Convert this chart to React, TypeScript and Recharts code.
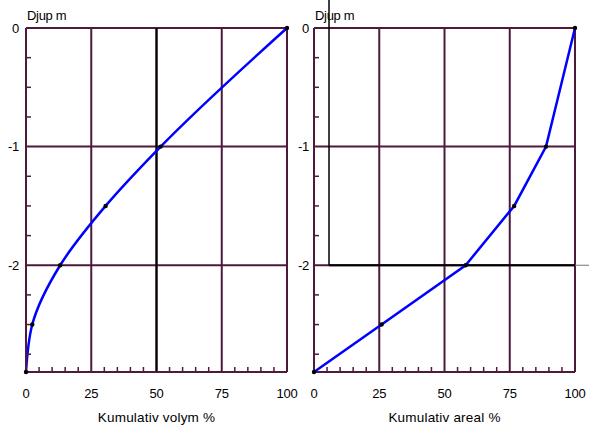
import { LineChart, Line, XAxis, YAxis, CartesianGrid, ReferenceLine } from 'recharts';

// Depth curves: cumulative volume / area against depth

const volymPct = [100, 51.6, 30.5, 13.1, 2.4, 0];
const volymDepth = [0, -1, -1.5, -2, -2.5, -2.9];

const arealPct = [100, 88.9, 76.7, 58.1, 25.9, 0];
const arealDepth = [0, -1, -1.5, -2, -2.5, -2.9];

const xTicks = [0, 25, 50, 75, 100];
const xMinorTicks = [5, 10, 15, 20, 30, 35, 40, 45, 55, 60, 65, 70, 80, 85, 90, 95];
const yTicks = [0, -1, -2];
const yMinorTicks = [-0.25, -0.5, -0.75, -1.25, -1.5, -1.75, -2.25, -2.5, -2.75];
const depthDomain = [-2.9, 0];

// stray black box lines seen on the right-hand panel
const boxX = 5.75;
const boxTop = 0.235;
const boxRight = 105.4;

const GRID = '#4d1a3c';
const FONT = '"Liberation Sans", Arial, sans-serif';

const toRows = (xs: number[], ys: number[]) => xs.map((v, i) => ({ pct: v, depth: ys[i] }));

const NoLabel = () => <g />;

interface DepthChartProps {
  rows: { pct: number; depth: number }[];
  xTitle: string;
  yAxisWidth: number;
  rightMargin: number;
  tickGap: number;
  curve: 'monotone' | 'linear';
  box?: boolean;
  darkMid?: boolean;
}

function DepthChart({ rows, xTitle, yAxisWidth, rightMargin, tickGap, curve, box, darkMid }: DepthChartProps) {
  const tickStyle = { fill: '#000', fontSize: 13, fontFamily: FONT, letterSpacing: -0.3 };
  return (
    <LineChart
      width={300}
      height={425}
      data={rows}
      layout="vertical"
      margin={{ top: 28, right: rightMargin, left: 0, bottom: 0 }}
    >
      <CartesianGrid xAxisId="main" yAxisId="main" stroke={GRID} strokeWidth={2} />
      <XAxis
        xAxisId="main"
        type="number"
        dataKey="pct"
        domain={[0, 100]}
        ticks={xTicks}
        height={53}
        tickLine={false}
        tickSize={0}
        tickMargin={17}
        axisLine={{ stroke: GRID, strokeWidth: 2 }}
        tick={tickStyle}
        label={{ value: xTitle, position: 'insideBottom', offset: 3, fill: '#000', fontSize: 13.5, fontFamily: FONT, letterSpacing: 0.2 }}
      />
      <XAxis
        xAxisId="minor"
        type="number"
        dataKey="pct"
        domain={[0, 100]}
        allowDataOverflow
        ticks={xMinorTicks}
        interval={0}
        mirror
        height={5}
        tick={NoLabel}
        axisLine={false}
        tickSize={5}
        tickLine={{ stroke: GRID, strokeWidth: 1.5 }}
      />
      <YAxis
        yAxisId="main"
        type="number"
        dataKey="depth"
        domain={depthDomain}
        reversed
        ticks={yTicks}
        width={yAxisWidth}
        tickLine={false}
        tickSize={0}
        tickMargin={tickGap}
        axisLine={{ stroke: GRID, strokeWidth: 2 }}
        tick={tickStyle}
        label={{
          value: 'Djup m',
          content: (p: any) => (
            <text
              x={p.viewBox.x + p.viewBox.width + 1}
              y={p.viewBox.y - 8}
              fill="#000"
              fontSize={13}
              fontFamily={FONT}
              letterSpacing={-0.3}
            >
              Djup m
            </text>
          ),
        }}
      />
      <YAxis
        yAxisId="minor"
        type="number"
        dataKey="depth"
        domain={depthDomain}
        allowDataOverflow
        reversed
        ticks={yMinorTicks}
        interval={0}
        mirror
        width={5}
        tick={NoLabel}
        axisLine={false}
        tickSize={5}
        tickLine={{ stroke: GRID, strokeWidth: 1.5 }}
      />
      {darkMid && <ReferenceLine xAxisId="main" yAxisId="main" x={50} stroke="#000" strokeWidth={2} />}
      {box && (
        <ReferenceLine
          xAxisId="main"
          yAxisId="main"
          ifOverflow="visible"
          segment={[{ x: boxX, y: boxTop }, { x: boxX, y: -2 }]}
          stroke="#000"
          strokeWidth={1.5}
        />
      )}
      {box && (
        <ReferenceLine
          xAxisId="main"
          yAxisId="main"
          ifOverflow="visible"
          segment={[{ x: boxX, y: -2 }, { x: 100, y: -2 }]}
          stroke="#000"
          strokeWidth={2}
        />
      )}
      {box && (
        <ReferenceLine
          xAxisId="main"
          yAxisId="main"
          ifOverflow="visible"
          segment={[{ x: 100, y: -2 }, { x: boxRight, y: -2 }]}
          stroke="#777"
          strokeWidth={1}
        />
      )}
      <Line
        xAxisId="main"
        yAxisId="main"
        type={curve}
        dataKey="pct"
        stroke="#0000ff"
        strokeWidth={2.5}
        dot={{ r: 2.2, fill: '#000', stroke: '#000', strokeWidth: 0 }}
        isAnimationActive={false}
      />
    </LineChart>
  );
}

export default function App() {
  return (
    <div style={{ position: 'absolute', left: 0, top: 0, width: 589, height: 425, background: '#fff', overflow: 'hidden' }}>
      <div style={{ position: 'absolute', left: 0, top: 0 }}>
        <DepthChart
          rows={toRows(volymPct, volymDepth)}
          xTitle="Kumulativ volym %"
          yAxisWidth={26}
          rightMargin={13}
          tickGap={7}
          curve="monotone"
          darkMid
        />
      </div>
      <div style={{ position: 'absolute', left: 289, top: 0 }}>
        <DepthChart
          rows={toRows(arealPct, arealDepth)}
          xTitle="Kumulativ areal %"
          yAxisWidth={25}
          rightMargin={14}
          tickGap={5}
          curve="linear"
          box
        />
      </div>
    </div>
  );
}
